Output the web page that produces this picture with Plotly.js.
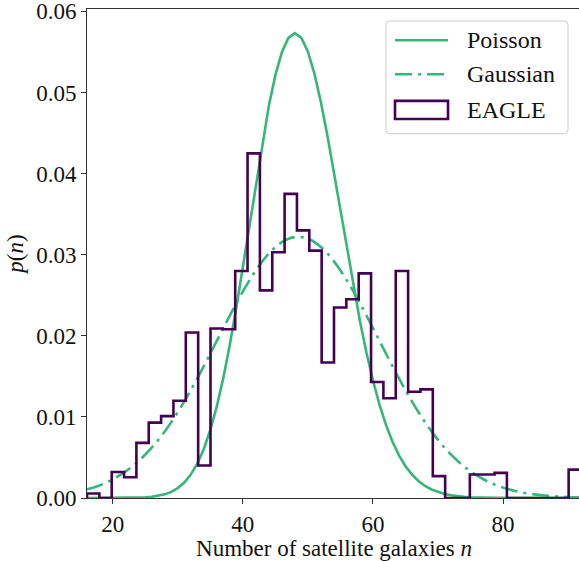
<!DOCTYPE html>
<html><head><meta charset="utf-8">
<script src="https://cdn.plot.ly/plotly-3.0.1.min.js"></script>
<style>html,body{margin:0;padding:0;overflow:hidden;background:#fff}</style>
</head><body><div id="chart"></div>
<script>
// ---- data ----
const binStart = 16.05;
const binWidth = 1.898;
const eagleDensity = [0.00055, 0, 0.0032, 0.00255, 0.0068, 0.0093, 0.0101, 0.0120, 0.0204, 0.0040,
  0.0209, 0.0208, 0.0280, 0.0425, 0.0256, 0.0303, 0.0375, 0.0330, 0.0305, 0.0167,
  0.0235, 0.0245, 0.0277, 0.0143, 0.0123, 0.0280, 0.0131, 0.0134, 0.0027, 0,
  0, 0.0029, 0.0029, 0.0031, 0, 0, 0, 0, 0, 0.0035];

const poissonN = [16,17,18,19,20,21,22,23,24,25,26,27,28,29,30,31,32,33,34,35,36,37,38,39,40,
  41,42,43,44,45,46,47,48,49,50,51,52,53,54,55,56,57,58,59,60,61,62,63,64,65,66,67,68,69,70,
  71,72,73,74,75,76,77,78,79,80,82,84,86,88,90,92];
const poissonP = [0,0,0,0,0,0,0.00001,0.00002,0.00004,0.00008,0.00014,0.00026,0.00045,0.00075,0.00122,
  0.00191,0.00289,0.00424,0.00605,0.00839,0.01130,0.01481,0.01890,0.02350,0.02849,
  0.03370,0.03891,0.04389,0.04838,0.05214,0.05498,0.05673,0.05732,0.05674,0.05503,
  0.05233,0.04881,0.04467,0.04012,0.03538,0.03064,0.02607,0.02180,0.01792,0.01449,
  0.01152,0.00901,0.00694,0.00526,0.00392,0.00288,0.00209,0.00149,0.00105,0.00073,
  0.00050,0.00034,0.00022,0.00015,0.00010,0.00006,0.00004,0.00002,0.00001,0.00001,0,0,0,0,0,0];

const gaussX = [16,18,20,22,24,26,28,30,32,34,36,38,40,42,44,46,48,50,52,54,56,58,60,62,64,66,
  68,70,72,74,76,78,80,82,84,86,88,90,92];
const gaussP = [0.00104,0.00156,0.00230,0.00328,0.00457,0.00621,0.00821,0.01058,0.01329,0.01625,
  0.01937,0.02250,0.02546,0.02807,0.03015,0.03155,0.03217,0.03197,0.03094,0.02918,
  0.02682,0.02401,0.02095,0.01780,0.01474,0.01189,0.00935,0.00716,0.00534,0.00389,
  0.00275,0.00190,0.00128,0.00084,0.00053,0.00033,0.00020,0.00012,0.00007];

const xTicks = [20, 40, 60, 80];
const yTicks = [0, 0.01, 0.02, 0.03, 0.04, 0.05, 0.06];
const legendLabels = ['Poisson', 'Gaussian', 'EAGLE'];

// ---- build step outline of histogram ----
const edges = eagleDensity.map((_, i) => binStart + i * binWidth);
const lastEdge = binStart + eagleDensity.length * binWidth;
const stepX = [binStart].concat(edges, [lastEdge]);
const stepY = [0].concat(eagleDensity, [0]);

const GREEN = '#35b779';
const PURPLE = '#440154';
const FONT = 'Liberation Serif, Times New Roman, serif';
const FS = 23;
const FSL = 24;

const traces = [
  {x: poissonN, y: poissonP, mode: 'lines', line: {color: GREEN, width: 2.6}, showlegend: false, hoverinfo: 'skip'},
  {x: gaussX, y: gaussP, mode: 'lines', line: {color: GREEN, width: 2.6, dash: '17px,6px,3px,6px', shape: 'spline'}, showlegend: false, hoverinfo: 'skip'},
  {x: stepX, y: stepY, mode: 'lines', line: {color: PURPLE, width: 2.6, shape: 'hv'}, showlegend: false, hoverinfo: 'skip'}
];

// manual legend in paper coords
const lx0 = 0.6053, lx1 = 0.9737, ly0 = 0.7449, ly1 = 0.9755, rx = 0.008, ry = 0.008;
const boxPath = `M ${lx0+rx},${ly0} L ${lx1-rx},${ly0} Q ${lx1},${ly0} ${lx1},${ly0+ry} L ${lx1},${ly1-ry} Q ${lx1},${ly1} ${lx1-rx},${ly1} L ${lx0+rx},${ly1} Q ${lx0},${ly1} ${lx0},${ly1-ry} L ${lx0},${ly0+ry} Q ${lx0},${ly0} ${lx0+rx},${ly0} Z`;
const sx0 = 0.6235, sx1 = 0.7308, tx = 0.7660;
const rowY = [0.9361, 0.8667, 0.7935];
const shapes = [
  {type: 'path', xref: 'paper', yref: 'paper', path: boxPath, fillcolor: 'rgba(255,255,255,0.85)', line: {color: '#cccccc', width: 1}},
  {type: 'line', xref: 'paper', yref: 'paper', x0: sx0, x1: sx1, y0: rowY[0], y1: rowY[0], line: {color: GREEN, width: 2.6}},
  {type: 'line', xref: 'paper', yref: 'paper', x0: sx0, x1: sx1, y0: rowY[1], y1: rowY[1], line: {color: GREEN, width: 2.6, dash: '17px,6px,3px,6px'}},
  {type: 'rect', xref: 'paper', yref: 'paper', x0: sx0, x1: sx1, y0: 0.7749, y1: 0.8122, line: {color: PURPLE, width: 2.6}, fillcolor: 'rgba(0,0,0,0)'}
];
const annotations = legendLabels.map((t, i) => ({
  xref: 'paper', yref: 'paper', x: tx, y: rowY[i], text: t, showarrow: false,
  xanchor: 'left', yanchor: 'middle', font: {family: FONT, size: FSL, color: '#111'}
}));

const layout = {
  width: 582, height: 561,
  margin: {l: 87, r: 1, t: 9, b: 63},
  paper_bgcolor: '#fff', plot_bgcolor: '#fff',
  font: {family: FONT, size: FS, color: '#111'},
  xaxis: {
    range: [binStart, lastEdge], tickvals: xTicks, ticktext: xTicks.map(String),
    showgrid: false, zeroline: false, showline: true, linecolor: '#333', linewidth: 1,
    mirror: true, ticks: 'outside', ticklen: 5, tickcolor: '#333', tickfont: {family: FONT, size: FS},
    ticklabeloverflow: 'allow',
    title: {text: 'Number of satellite galaxies <i>n</i>', font: {family: FONT, size: FS}, standoff: 5}
  },
  yaxis: {
    range: [0, 0.0603], tickvals: yTicks, tickformat: '.2f',
    showgrid: false, zeroline: false, showline: true, linecolor: '#333', linewidth: 1,
    mirror: true, ticks: 'outside', ticklen: 5, tickcolor: '#333', tickfont: {family: FONT, size: FS},
    ticklabeloverflow: 'allow',
    title: {text: '<i>p</i>(<i>n</i>)', font: {family: FONT, size: FS}, standoff: 6}
  },
  shapes: shapes,
  annotations: annotations
};

Plotly.newPlot('chart', traces, layout, {staticPlot: true, displayModeBar: false});
</script>
</body></html>
